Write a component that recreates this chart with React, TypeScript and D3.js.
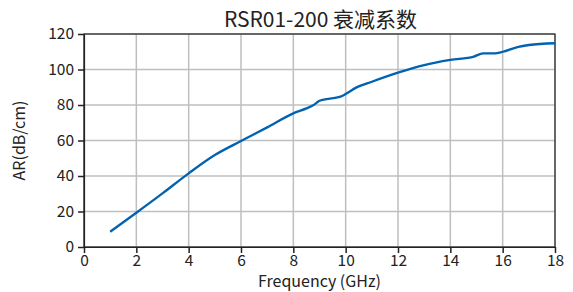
import React, { useEffect, useRef } from 'react';
import * as d3 from 'd3';

const freq = [1, 2, 3, 4, 5, 6, 7, 8, 8.5, 8.8, 9.0, 9.4, 9.8, 10, 10.4, 11, 12, 13, 14, 14.9, 15.25, 15.7, 16, 16.6, 17, 18];
const ar = [8.6, 19.3, 30.2, 41.5, 51.8, 59.7, 67.4, 75.3, 78.1, 80.2, 82.4, 83.6, 84.7, 86.2, 89.8, 93.1, 98.2, 102.5, 105.4, 107.3, 109.1, 109.1, 110, 112.8, 113.8, 114.8];
const xTicks = [0, 2, 4, 6, 8, 10, 12, 14, 16, 18];
const yTicks = [0, 20, 40, 60, 80, 100, 120];
const title = 'RSR01-200 衰减系数';
const xLabel = 'Frequency (GHz)';
const yLabel = 'AR(dB/cm)';

const App: React.FC = () => {
  const svgRef = useRef<SVGSVGElement>(null);
  const width = 573;
  const height = 292;

  useEffect(() => {
    if (!svgRef.current) return;
    const svg = d3.select(svgRef.current);
    svg.selectAll('*').remove();
    const font = '"Noto Sans CJK SC", "Noto Sans", sans-serif';
    const margin = { top: 34, right: 18, bottom: 45, left: 84 };

    const x = d3.scaleLinear().domain([0, 18]).range([margin.left, width - margin.right]);
    const y = d3.scaleLinear().domain([0, 120]).range([height - margin.bottom, margin.top]);

    // grid
    const grid = svg.append('g').attr('stroke', '#bfbfbf').attr('stroke-width', 1.5);
    xTicks.forEach(t => {
      grid.append('line').attr('x1', x(t)).attr('x2', x(t)).attr('y1', y(0)).attr('y2', y(120));
    });
    yTicks.forEach(t => {
      grid.append('line').attr('x1', x(0)).attr('x2', x(18)).attr('y1', y(t)).attr('y2', y(t));
    });

    // frame
    svg.append('rect')
      .attr('x', x(0)).attr('y', y(120))
      .attr('width', x(18) - x(0)).attr('height', y(0) - y(120))
      .attr('fill', 'none').attr('stroke', '#222').attr('stroke-width', 1.2);

    // line
    svg.append('path')
      .datum(freq.map((f, i) => [f, ar[i]] as [number, number]))
      .attr('fill', 'none')
      .attr('stroke', '#0062b1')
      .attr('stroke-width', 2.3)
      .attr('d', d3.line<[number, number]>().x(d => x(d[0])).y(d => y(d[1])).curve(d3.curveMonotoneX));

    // axes
    const xAxis = svg.append('g')
      .attr('transform', `translate(0,${y(0)})`)
      .call(d3.axisBottom(x).tickValues(xTicks).tickSize(6).tickPadding(2).tickSizeOuter(0));
    const yAxis = svg.append('g')
      .attr('transform', `translate(${x(0)},0)`)
      .call(d3.axisLeft(y).tickValues(yTicks).tickSize(6).tickPadding(4).tickSizeOuter(0));
    [xAxis, yAxis].forEach(g => {
      g.select('.domain').attr('stroke', '#222').attr('stroke-width', 1.2);
      g.selectAll('line').attr('stroke', '#222').attr('stroke-width', 1.5);
      g.selectAll('text').attr('font-family', font).attr('font-size', 15.5).attr('fill', '#222');
    });

    svg.append('text')
      .attr('x', (x(0) + x(18)) / 2 + 1).attr('y', 27)
      .attr('text-anchor', 'middle')
      .attr('font-family', font).attr('font-size', 21).attr('fill', '#222')
      .text(title);

    svg.append('text')
      .attr('x', (x(0) + x(18)) / 2).attr('y', 287)
      .attr('text-anchor', 'middle')
      .attr('font-family', font).attr('font-size', 16).attr('fill', '#222')
      .text(xLabel);

    svg.append('text')
      .attr('transform', `translate(25,${(y(0) + y(120)) / 2}) rotate(-90)`)
      .attr('text-anchor', 'middle')
      .attr('font-family', font).attr('font-size', 16).attr('fill', '#222')
      .text(yLabel);
  }, []);

  return <svg ref={svgRef} width={width} height={height} style={{ position: 'absolute', left: 0, top: 0 }} />;
};

export default App;
